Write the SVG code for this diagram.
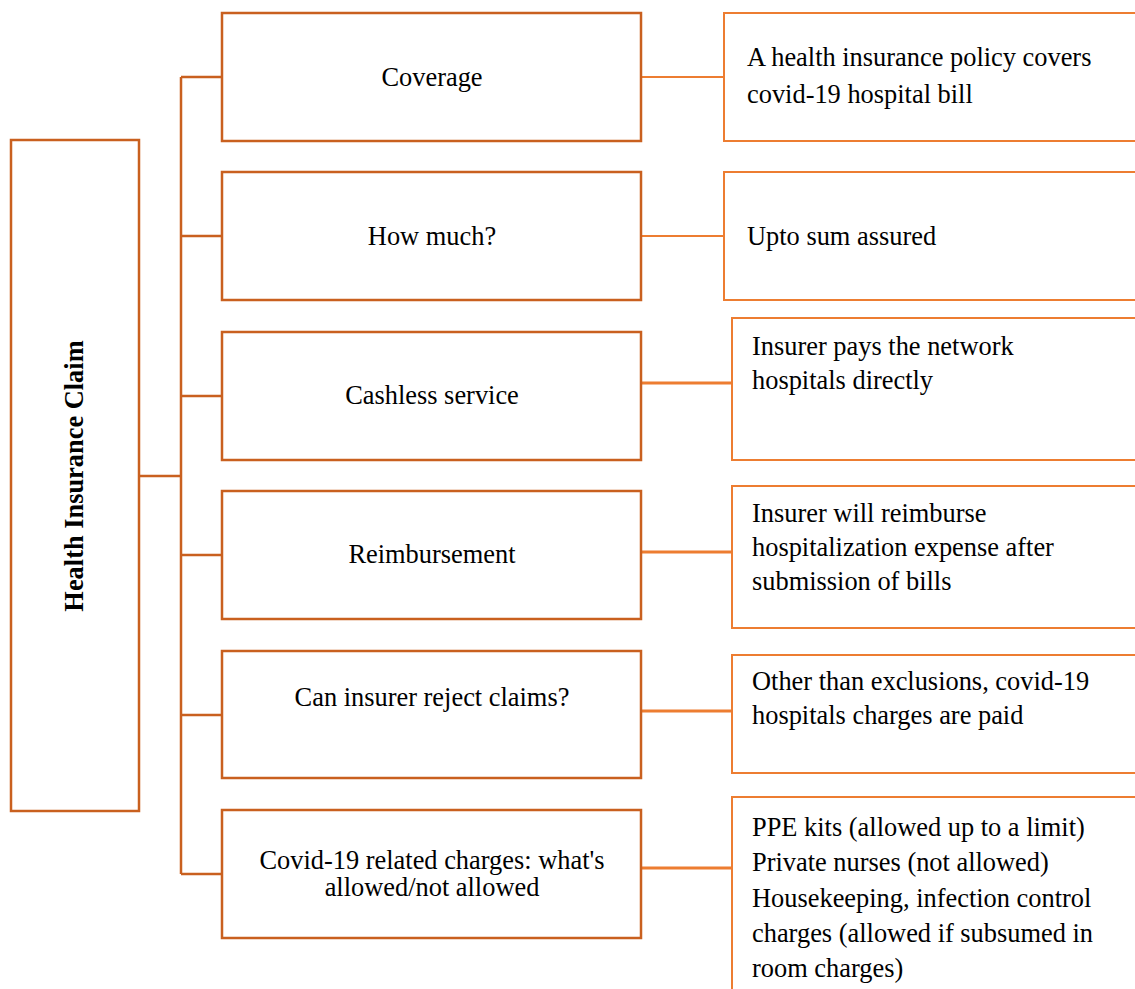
<svg xmlns="http://www.w3.org/2000/svg" width="1135" height="989" viewBox="0 0 1135 989">
<style>
.dk{fill:#fff;stroke:#C9601F;stroke-width:2.5}
.lt{fill:#fff;stroke:#ED7D31;stroke-width:2}
.cn{stroke:#C9601F;stroke-width:2.5;fill:none}
.cr{stroke:#ED7D31;stroke-width:2;fill:none}
.cr3{stroke:#ED7D31;stroke-width:3;fill:none}
text{font-family:"Liberation Serif","Times New Roman",serif;font-size:26.4px;fill:#000}
.m{text-anchor:middle}
.b{font-weight:bold}
</style>
<rect width="1135" height="989" fill="#fff"/>
<g id="connectors">
<path class="cn" d="M139 476H181M181 77V874M181 77H222M181 236H222M181 396H222M181 555H222M181 715H222M181 874H222"/>
<path class="cr" d="M641 77H724M641 236H724"/>
<path class="cr3" d="M641 383H732M641 552H732M641 711H732M641 868H732"/>
</g>
<g id="root"><rect class="dk" x="11" y="140" width="128" height="671"/>
<text class="m b" transform="translate(83 476) rotate(-90)">Health Insurance Claim</text></g>
<g id="n1"><rect class="dk" x="222" y="13" width="419" height="128"/><text class="m" x="432" y="86">Coverage</text></g>
<g id="n2"><rect class="dk" x="222" y="172" width="419" height="128"/><text class="m" x="432" y="245">How much?</text></g>
<g id="n3"><rect class="dk" x="222" y="332" width="419" height="128"/><text class="m" x="432" y="404">Cashless service</text></g>
<g id="n4"><rect class="dk" x="222" y="491" width="419" height="128"/><text class="m" x="432" y="563">Reimbursement</text></g>
<g id="n5"><rect class="dk" x="222" y="651" width="419" height="127"/><text class="m" x="432" y="706">Can insurer reject claims?</text></g>
<g id="n6"><rect class="dk" x="222" y="810" width="419" height="128"/><text class="m" x="432" y="869">Covid-19 related charges: what's</text><text class="m" x="432" y="896">allowed/not allowed</text></g>
<g id="r1"><rect class="lt" x="724" y="13" width="420" height="128"/><text x="747" y="66">A health insurance policy covers</text><text x="747" y="103">covid-19 hospital bill</text></g>
<g id="r2"><rect class="lt" x="724" y="172" width="420" height="128"/><text x="747" y="245">Upto sum assured</text></g>
<g id="r3"><rect class="lt" x="732" y="318" width="412" height="142"/><text x="752" y="355">Insurer pays the network</text><text x="752" y="389">hospitals directly</text></g>
<g id="r4"><rect class="lt" x="732" y="486" width="412" height="142"/><text x="752" y="522">Insurer will reimburse</text><text x="752" y="556">hospitalization expense after</text><text x="752" y="590">submission of bills</text></g>
<g id="r5"><rect class="lt" x="732" y="655" width="412" height="118"/><text x="752" y="690">Other than exclusions, covid-19</text><text x="752" y="724">hospitals charges are paid</text></g>
<g id="r6"><rect class="lt" x="732" y="797" width="412" height="210"/><text x="752" y="836">PPE kits (allowed up to a limit)</text><text x="752" y="871">Private nurses (not allowed)</text><text x="752" y="907">Housekeeping, infection control</text><text x="752" y="942">charges (allowed if subsumed in</text><text x="752" y="977">room charges)</text></g>
</svg>
